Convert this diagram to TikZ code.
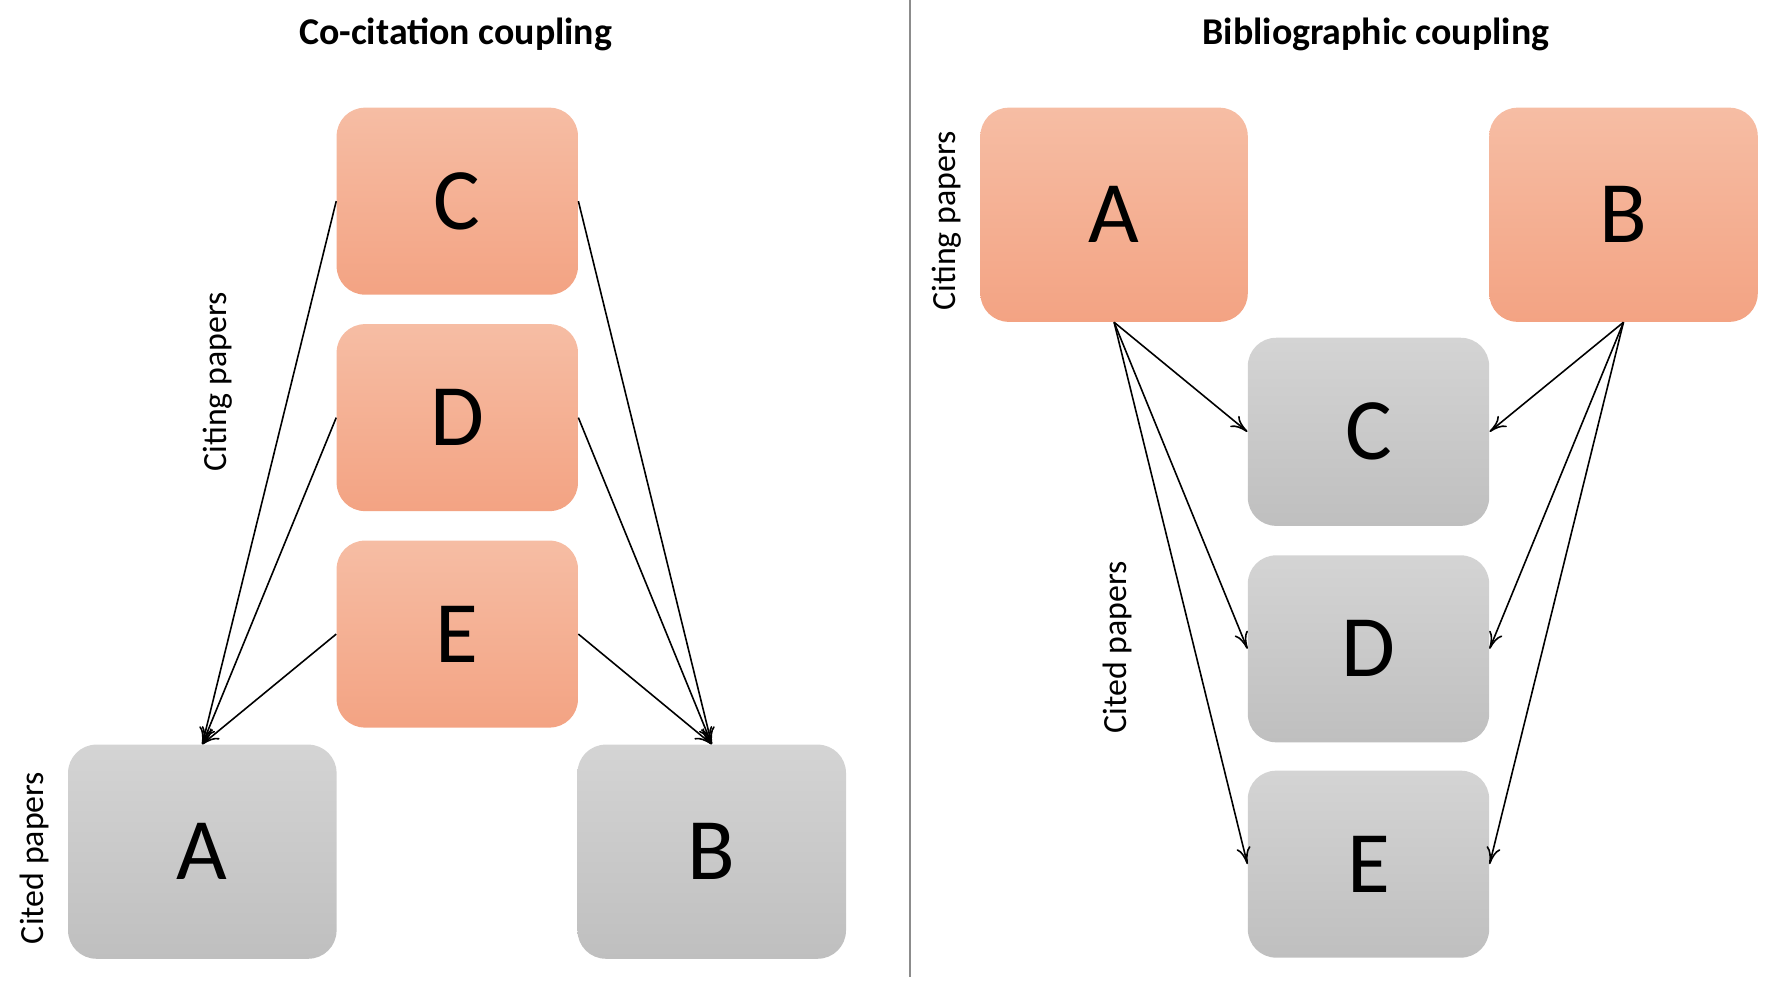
\documentclass[tikz,border=0pt]{standalone}
\usepackage{fontspec}
\setmainfont{Carlito}
\usetikzlibrary{arrows.meta}
\definecolor{ctop}{HTML}{F6BDA4}
\definecolor{cbot}{HTML}{F3A383}
\definecolor{gtop}{HTML}{D4D4D4}
\definecolor{gbot}{HTML}{BFBFBF}
\begin{document}
\begin{tikzpicture}[x=0.02cm,y=-0.02cm,
  box/.style={rounded corners=0.5cm,draw=none,inner sep=0pt,font=\fontsize{44}{44}\selectfont},
  cit/.style={box,top color=ctop,bottom color=cbot},
  ref/.style={box,top color=gtop,bottom color=gbot},
  lab/.style={rotate=90,font=\fontsize{17}{17}\selectfont},
  ttl/.style={font=\bfseries\fontsize{19}{19}\selectfont},
  arr/.style={-{To[length=3mm,width=2.5mm]},line width=0.8pt}]
\useasboundingbox (0,0) rectangle (1560,884);
\draw[black!45,line width=1pt] (803,0) -- (803,862);
\node[ttl] (t1) at (402,30) {Co-citation coupling};
\node[ttl] (t2) at (1214,30) {Bibliographic coupling};
% left
\node[cit,minimum width=4.26cm,minimum height=3.3cm] (lC) at (403.5,177.5) {C};
\node[cit,minimum width=4.26cm,minimum height=3.3cm] (lD) at (403.5,368.5) {D};
\node[cit,minimum width=4.26cm,minimum height=3.3cm] (lE) at (403.5,559.5) {E};
\node[ref,minimum width=4.74cm,minimum height=3.78cm] (lA) at (178.5,751.5) {A};
\node[ref,minimum width=4.74cm,minimum height=3.78cm] (lB) at (628,751.5) {B};
\node[lab] (l1) at (192,337) {Citing papers};
\node[lab] (l2) at (30,757) {Cited papers};
\foreach \s in {lC,lD,lE}{
  \draw[arr] (\s.west) -- (lA.north);
  \draw[arr] (\s.east) -- (lB.north);
}
% right
\node[cit,minimum width=4.72cm,minimum height=3.78cm] (rA) at (983,189.5) {A};
\node[cit,minimum width=4.74cm,minimum height=3.78cm] (rB) at (1432.5,189.5) {B};
\node[ref,minimum width=4.26cm,minimum height=3.32cm] (rC) at (1207.5,381) {C};
\node[ref,minimum width=4.26cm,minimum height=3.3cm] (rD) at (1207.5,572.5) {D};
\node[ref,minimum width=4.26cm,minimum height=3.3cm] (rE) at (1207.5,762.5) {E};
\node[lab] (l3) at (835,195) {Citing papers};
\node[lab] (l4) at (986,571) {Cited papers};
\foreach \t in {rC,rD,rE}{
  \draw[arr] (rA.south) -- (\t.west);
  \draw[arr] (rB.south) -- (\t.east);
}
\end{tikzpicture}
\end{document}
